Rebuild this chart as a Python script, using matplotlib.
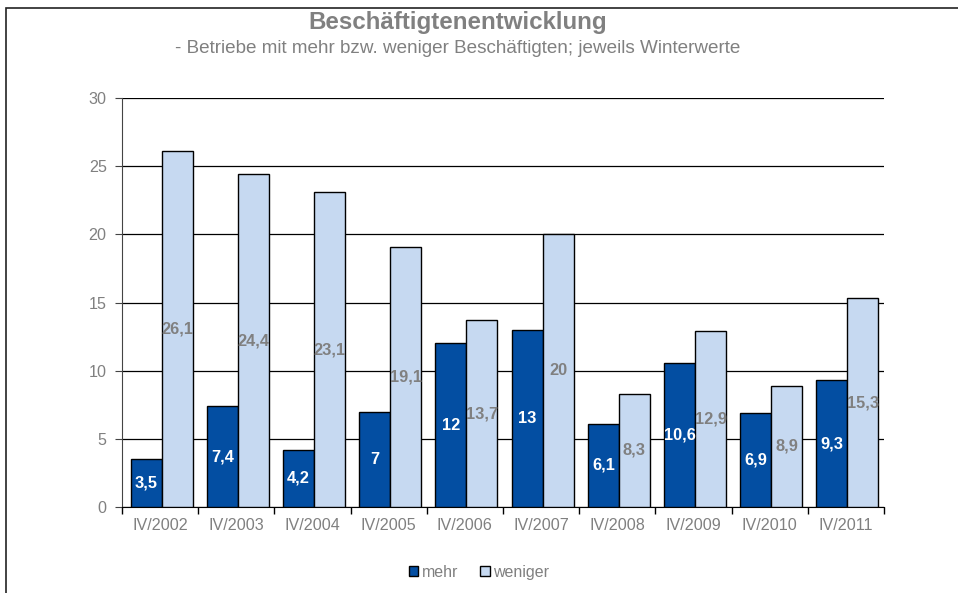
import numpy as np
import matplotlib.pyplot as plt
from matplotlib.patches import Rectangle

plt.rcParams['font.family'] = ['Liberation Sans', 'DejaVu Sans']

categories = ["IV/2002", "IV/2003", "IV/2004", "IV/2005", "IV/2006",
              "IV/2007", "IV/2008", "IV/2009", "IV/2010", "IV/2011"]
mehr = [3.5, 7.4, 4.2, 7, 12, 13, 6.1, 10.6, 6.9, 9.3]
weniger = [26.1, 24.4, 23.1, 19.1, 13.7, 20, 8.3, 12.9, 8.9, 15.3]

dark = "#034EA2"
light = "#C6D9F1"
gray = "#808080"


def fmt(v):
    s = f"{v:g}"
    return s.replace(".", ",")


fig = plt.figure(figsize=(9.58, 5.93), dpi=100)
fig.patches.append(Rectangle((6 / 958, -0.1), 1.2, 1 - 8 / 593 + 0.1,
                             transform=fig.transFigure, fill=False,
                             edgecolor="#222222", linewidth=1.2))

ax = fig.add_axes([0.1273, 0.145, 0.7955, 0.6897])
x = np.arange(len(categories))
w = 0.407
b1 = ax.bar(x - w / 2 + 0.02, mehr, w, color=dark, edgecolor="black", linewidth=1, zorder=3)
b2 = ax.bar(x + w / 2 + 0.02, weniger, w, color=light, edgecolor="black", linewidth=1, zorder=3)

for rect, v in zip(b1, mehr):
    ax.text(rect.get_x() + rect.get_width() / 2, v / 2, fmt(v), ha="center", va="center",
            color="white", fontsize=11.8, fontweight="bold", zorder=4)
for rect, v in zip(b2, weniger):
    ax.text(rect.get_x() + rect.get_width() / 2, v / 2, fmt(v), ha="center", va="center",
            color=gray, fontsize=11.8, fontweight="bold", zorder=4)

ax.set_xlim(-0.5, len(categories) - 0.5)
ax.set_ylim(0, 30)
ax.set_yticks(range(0, 31, 5))
ax.yaxis.grid(True, color="black", linewidth=0.9, zorder=0)
ax.set_axisbelow(True)

ax.set_xticks(x)
ax.set_xticklabels(categories, color=gray, fontsize=11.6)
ax.set_xticks(np.arange(-0.5, len(categories)), minor=True)
ax.tick_params(axis="x", which="major", length=0, pad=8)
ax.tick_params(axis="x", which="minor", length=5, color="black", width=1)
ax.tick_params(axis="y", length=5, color="#444444", labelcolor=gray, labelsize=11.6, pad=6)

for s in ("top", "right"):
    ax.spines[s].set_visible(False)
ax.spines["left"].set_color("#444444")
ax.spines["bottom"].set_color("black")

fig.text(0.4775, 0.962, "Beschäftigtenentwicklung", ha="center", va="center",
         fontsize=17.4, fontweight="bold", color=gray)
fig.text(0.4775, 0.918, "- Betriebe mit mehr bzw. weniger Beschäftigten; jeweils Winterwerte",
         ha="center", va="center", fontsize=13.6, color=gray)

leg = fig.legend([b1, b2], ["mehr", "weniger"], loc="center", bbox_to_anchor=(0.5, 0.035),
                 ncol=2, frameon=False, fontsize=11.5, handlelength=0.6, handleheight=0.6,
                 handletextpad=0.2, columnspacing=1.4)
for t in leg.get_texts():
    t.set_color(gray)

fig.savefig("out.png", dpi=100)
